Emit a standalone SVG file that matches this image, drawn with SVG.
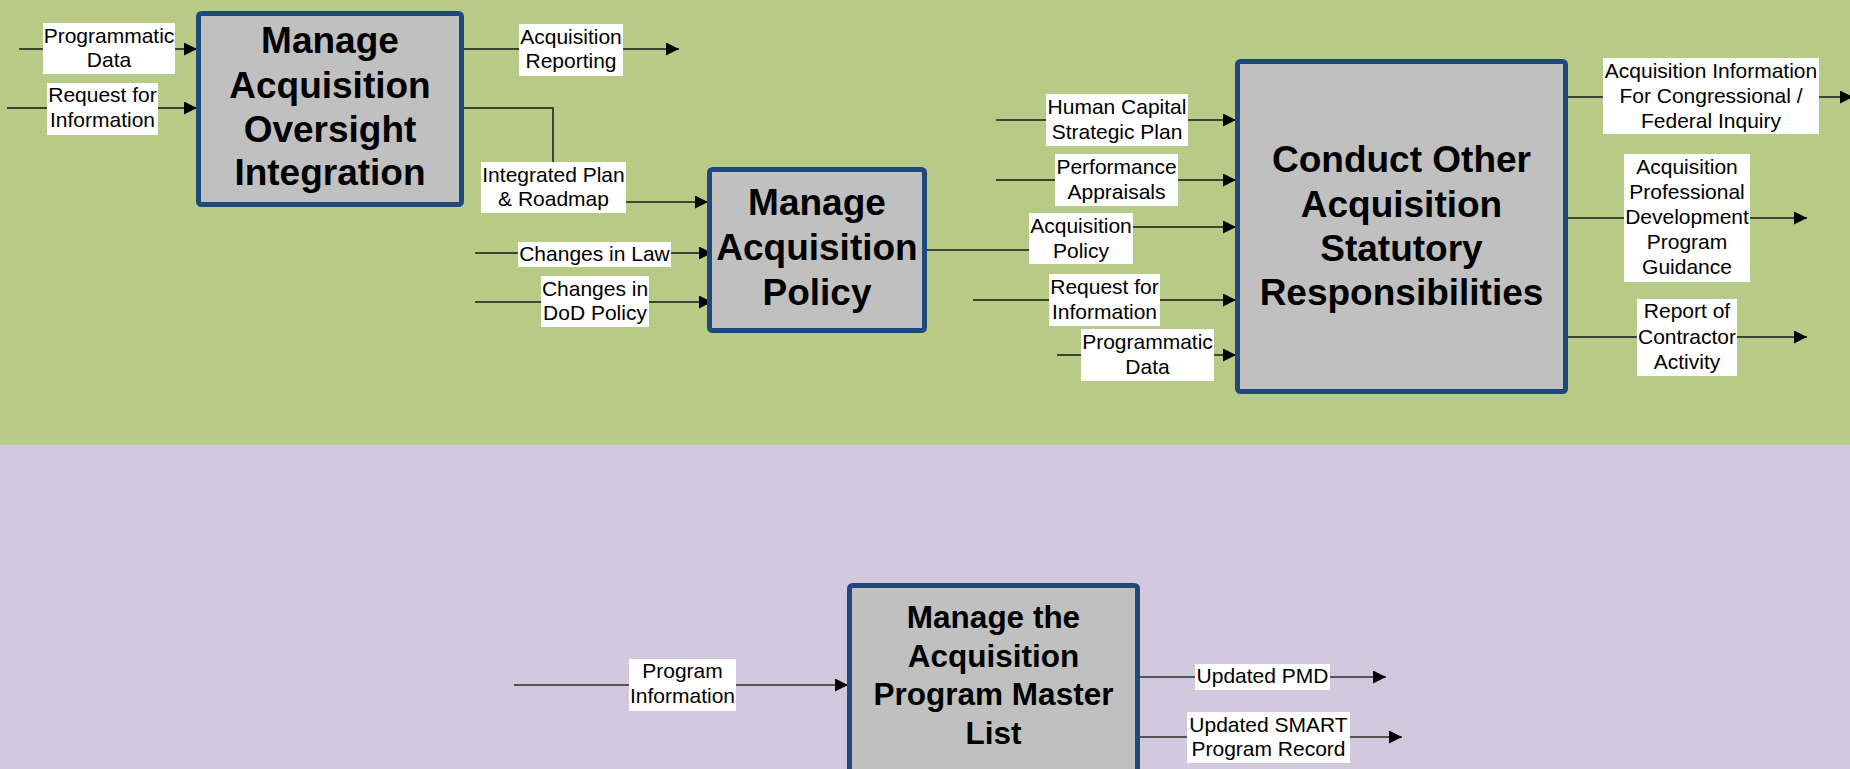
<svg xmlns="http://www.w3.org/2000/svg" width="1850" height="769" viewBox="0 0 1850 769">
<style>
.bg-top{fill:#B7CB87}
.bg-bot{fill:#D2C9DF}
.box{fill:#C0C0C0;stroke:#1F497D;stroke-width:5}
.title{font-family:"Liberation Sans",Arial,sans-serif;font-weight:bold;font-size:37px;fill:#000;text-anchor:middle}
.title-sm{font-size:31.5px}
.lbl-bg{fill:#FFFFFF}
.lbl{font-family:"Liberation Sans",Arial,sans-serif;font-size:21px;fill:#000;text-anchor:middle}
.conn{fill:none;stroke:#3B4535;stroke-width:2}
.conn2{fill:none;stroke:#555555;stroke-width:2}
</style>
<defs>
<marker id="arrow" markerUnits="userSpaceOnUse" markerWidth="14" markerHeight="14" refX="13" refY="6.5" orient="auto">
<path d="M0,0 L13,6.5 L0,13 Z" fill="#000"/>
</marker>
</defs>
<rect class="bg-top" x="0" y="0" width="1850" height="445"/>
<rect class="bg-bot" x="0" y="445" width="1850" height="324"/>

<g id="connectors">
<path class="conn" d="M19,49 H197" marker-end="url(#arrow)"/>
<path class="conn" d="M7,108 H197" marker-end="url(#arrow)"/>
<path class="conn" d="M464,49 H679" marker-end="url(#arrow)"/>
<path class="conn" d="M464,108 H553 V202 H708" marker-end="url(#arrow)"/>
<path class="conn" d="M475,253 H712" marker-end="url(#arrow)"/>
<path class="conn" d="M475,302 H712" marker-end="url(#arrow)"/>
<path class="conn" d="M927,250 H1080 V227 H1236" marker-end="url(#arrow)"/>
<path class="conn" d="M996,120 H1236" marker-end="url(#arrow)"/>
<path class="conn" d="M996,180 H1236" marker-end="url(#arrow)"/>
<path class="conn" d="M973,300 H1236" marker-end="url(#arrow)"/>
<path class="conn" d="M1057,355 H1236" marker-end="url(#arrow)"/>
<path class="conn" d="M1568,97 H1853" marker-end="url(#arrow)"/>
<path class="conn" d="M1568,218 H1807" marker-end="url(#arrow)"/>
<path class="conn" d="M1568,337 H1807" marker-end="url(#arrow)"/>
<path class="conn2" d="M514,685 H848" marker-end="url(#arrow)"/>
<path class="conn2" d="M1140,677 H1386" marker-end="url(#arrow)"/>
<path class="conn2" d="M1140,737 H1402" marker-end="url(#arrow)"/>
</g>

<g id="node-oversight">
<rect class="box" x="198.5" y="13.5" width="263" height="191" rx="3"/>
<text class="title" x="330" y="53">Manage</text>
<text class="title" x="330" y="97.5">Acquisition</text>
<text class="title" x="330" y="141.5">Oversight</text>
<text class="title" x="330" y="185">Integration</text>
</g>

<g id="node-policy">
<rect class="box" x="709.5" y="169.5" width="215" height="161" rx="3"/>
<text class="title" x="817" y="215">Manage</text>
<text class="title" x="817" y="260">Acquisition</text>
<text class="title" x="817" y="305">Policy</text>
</g>

<g id="node-statutory">
<rect class="box" x="1237.5" y="61.5" width="328" height="330" rx="3"/>
<text class="title" x="1401.5" y="172">Conduct Other</text>
<text class="title" x="1401.5" y="216.5">Acquisition</text>
<text class="title" x="1401.5" y="261">Statutory</text>
<text class="title" x="1401.5" y="305">Responsibilities</text>
</g>

<g id="node-master-list">
<rect class="box" x="849.5" y="585.5" width="288" height="300" rx="3"/>
<text class="title title-sm" x="993.5" y="628">Manage the</text>
<text class="title title-sm" x="993.5" y="666.5">Acquisition</text>
<text class="title title-sm" x="993.5" y="705">Program Master</text>
<text class="title title-sm" x="993.5" y="743.5">List</text>
</g>

<g id="label-programmatic-data-1">
<rect class="lbl-bg" x="43" y="23" width="132" height="51"/>
<text class="lbl" x="109" y="43">Programmatic</text>
<text class="lbl" x="109" y="67">Data</text>
</g>
<g id="label-request-1">
<rect class="lbl-bg" x="47" y="83" width="111" height="52"/>
<text class="lbl" x="102.5" y="102">Request for</text>
<text class="lbl" x="102.5" y="127">Information</text>
</g>
<g id="label-acq-reporting">
<rect class="lbl-bg" x="519" y="24" width="104" height="52"/>
<text class="lbl" x="571" y="44">Acquisition</text>
<text class="lbl" x="571" y="68">Reporting</text>
</g>
<g id="label-integrated-plan">
<rect class="lbl-bg" x="481" y="162" width="145" height="51"/>
<text class="lbl" x="553.5" y="182">Integrated Plan</text>
<text class="lbl" x="553.5" y="206">&amp; Roadmap</text>
</g>
<g id="label-changes-law">
<rect class="lbl-bg" x="518" y="242" width="153" height="25"/>
<text class="lbl" x="594.5" y="261">Changes in Law</text>
</g>
<g id="label-changes-dod">
<rect class="lbl-bg" x="541" y="276" width="108" height="51"/>
<text class="lbl" x="595" y="296">Changes in</text>
<text class="lbl" x="595" y="320">DoD Policy</text>
</g>
<g id="label-human-capital">
<rect class="lbl-bg" x="1046" y="94" width="142" height="52"/>
<text class="lbl" x="1117" y="114">Human Capital</text>
<text class="lbl" x="1117" y="139">Strategic Plan</text>
</g>
<g id="label-performance">
<rect class="lbl-bg" x="1055" y="154" width="123" height="52"/>
<text class="lbl" x="1116.5" y="174">Performance</text>
<text class="lbl" x="1116.5" y="199">Appraisals</text>
</g>
<g id="label-acq-policy">
<rect class="lbl-bg" x="1029" y="213" width="104" height="51"/>
<text class="lbl" x="1081" y="233">Acquisition</text>
<text class="lbl" x="1081" y="258">Policy</text>
</g>
<g id="label-request-2">
<rect class="lbl-bg" x="1049" y="274" width="111" height="52"/>
<text class="lbl" x="1104.5" y="294">Request for</text>
<text class="lbl" x="1104.5" y="319">Information</text>
</g>
<g id="label-programmatic-data-2">
<rect class="lbl-bg" x="1081" y="329" width="133" height="52"/>
<text class="lbl" x="1147.5" y="349">Programmatic</text>
<text class="lbl" x="1147.5" y="374">Data</text>
</g>
<g id="label-congressional">
<rect class="lbl-bg" x="1603" y="58" width="216" height="76"/>
<text class="lbl" x="1711" y="77.5">Acquisition Information</text>
<text class="lbl" x="1711" y="103">For Congressional /</text>
<text class="lbl" x="1711" y="128">Federal Inquiry</text>
</g>
<g id="label-prof-dev">
<rect class="lbl-bg" x="1624" y="154" width="126" height="128"/>
<text class="lbl" x="1687" y="174">Acquisition</text>
<text class="lbl" x="1687" y="199">Professional</text>
<text class="lbl" x="1687" y="224">Development</text>
<text class="lbl" x="1687" y="249">Program</text>
<text class="lbl" x="1687" y="274">Guidance</text>
</g>
<g id="label-contractor">
<rect class="lbl-bg" x="1637" y="299" width="100" height="77"/>
<text class="lbl" x="1687" y="318">Report of</text>
<text class="lbl" x="1687" y="344">Contractor</text>
<text class="lbl" x="1687" y="369">Activity</text>
</g>
<g id="label-program-info">
<rect class="lbl-bg" x="629" y="659" width="107" height="52"/>
<text class="lbl" x="682.5" y="678">Program</text>
<text class="lbl" x="682.5" y="703">Information</text>
</g>
<g id="label-updated-pmd">
<rect class="lbl-bg" x="1195" y="664" width="135" height="26"/>
<text class="lbl" x="1262.5" y="683">Updated PMD</text>
</g>
<g id="label-updated-smart">
<rect class="lbl-bg" x="1187" y="712" width="163" height="51"/>
<text class="lbl" x="1268.5" y="732">Updated SMART</text>
<text class="lbl" x="1268.5" y="756">Program Record</text>
</g>
</svg>
